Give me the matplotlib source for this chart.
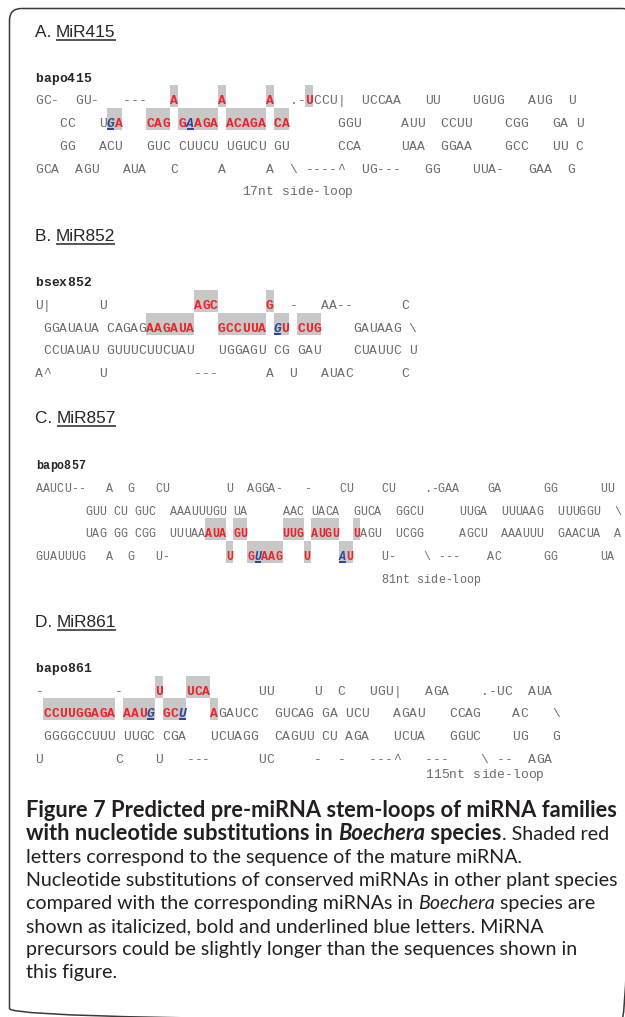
import matplotlib
matplotlib.use('Agg')
import matplotlib.pyplot as plt
from matplotlib.patches import Rectangle, FancyBboxPatch

W, H, DPI = 625, 1017, 100

# ---------------- data ----------------
panel_titles = ['A. ', 'B. ', 'C. ', 'D. ']
mirna_names = ['MiR415', 'MiR852', 'MiR857', 'MiR861']
precursor_ids = ['bapo415', 'bsex852', 'bapo857', 'bapo861']

a_rows = [
    'GC-  GU-   ---   A     A     A  .-UCCU|  UCCAA   UU    UGUG   AUG  U',
    '   CC   UGA   CAG GAAGA ACAGA CA      GGU     AUU  CCUU    CGG   GA U',
    '   GG   ACU   GUC CUUCU UGUCU GU      CCA     UAA  GGAA    GCC   UU C',
    'GCA  AGU   AUA   C     A     A  \\ ----^  UG---   GG    UUA-   GAA  G',
    '                          17nt side-loop',
]
a_red = [(0, 17), (0, 23), (0, 29), (0, 34),
         (1, 10), (1, 14), (1, 15), (1, 16), (1, 18), (1, 20), (1, 21), (1, 22),
         (1, 24), (1, 25), (1, 26), (1, 27), (1, 28), (1, 30), (1, 31)]
a_blue = [(1, 9), (1, 19)]

b_rows = [
    'U|      U           AGC      G  -   AA--      C',
    ' GGAUAUA CAGAGAAGAUA   GCCUUA GU CUG    GAUAAG \\',
    ' CCUAUAU GUUUCUUCUAU   UGGAGU CG GAU    CUAUUC U',
    'A^      U           ---      A  U   AUAC      C',
]
b_red = [(0, 20), (0, 21), (0, 22), (0, 29),
         (1, 14), (1, 15), (1, 16), (1, 17), (1, 18), (1, 19),
         (1, 23), (1, 24), (1, 25), (1, 26), (1, 27), (1, 28),
         (1, 31), (1, 33), (1, 34), (1, 35)]
b_blue = [(1, 30)]

c_rows = [
    'AAUCU--   A  G   CU        U  AGGA-   -    CU    CU    .-GAA    GA      GG      UU',
    '       GUU CU GUC  AAAUUUGU UA     AAC UACA  GUCA  GGCU     UUGA  UUUAAG  UUUGGU  \\',
    '       UAG GG CGG  UUUAAAUA GU     UUG AUGU  UAGU  UCGG     AGCU  AAAUUU  GAACUA  A',
    'GUAUUUG   A  G   U-        U  GUAAG   U    AU    U-    \\ ---    AC      GG      UA',
    '                                                 81nt side-loop',
]
c_red = [(2, 24), (2, 25), (2, 26), (2, 28), (2, 29), (2, 35), (2, 36), (2, 37),
         (2, 39), (2, 40), (2, 41), (2, 42), (2, 45),
         (3, 27), (3, 30), (3, 32), (3, 33), (3, 34), (3, 38), (3, 44)]
c_blue = [(3, 31), (3, 43)]

d_rows = [
    '-         -    U   UCA      UU     U  C   UGU|   AGA    .-UC  AUA',
    ' CCUUGGAGA AAUG GCU   AGAUCC  GUCAG GA UCU   AGAU   CCAG    AC   \\',
    ' GGGGCCUUU UUGC CGA   UCUAGG  CAGUU CU AGA   UCUA   GGUC    UG   G',
    'U         C    U   ---      UC     -  -   ---^   ---    \\ --  AGA',
    '                                                 115nt side-loop',
]
d_red = [(0, 15), (0, 19), (0, 20), (0, 21),
         (1, 1), (1, 2), (1, 3), (1, 4), (1, 5), (1, 6), (1, 7), (1, 8), (1, 9),
         (1, 11), (1, 12), (1, 13), (1, 16), (1, 17), (1, 22)]
d_blue = [(1, 14), (1, 18)]

caption_lines = [
    [('Figure 7 Predicted pre-miRNA stem-loops of miRNA families', 'b')],
    [('with nucleotide substitutions in ', 'b'), ('Boechera', 'bi'),
     (' species', 'b'), ('. Shaded red', 'r')],
    [('letters correspond to the sequence of the mature miRNA.', 'r')],
    [('Nucleotide substitutions of conserved miRNAs in other plant species', 'r')],
    [('compared with the corresponding miRNAs in ', 'r'), ('Boechera', 'i'),
     (' species are', 'r')],
    [('shown as italicized, bold and underlined blue letters. MiRNA', 'r')],
    [('precursors could be slightly longer than the sequences shown in', 'r')],
    [('this figure.', 'r')],
]

# ---------------- layout / style ----------------
RED = '#ec2229'
BLUE = '#2c4596'
SHADE = '#c8c8c8'
SEQ_GRAY = '#6b6b6b'
DARK = '#262626'
MONO = 'Liberation Mono'

panels = [
    dict(rows=a_rows, red=a_red, blue=a_blue, x0=35.0, pitch=7.95, fs=9.4,
         title_y=31, label_y=78, ys=[100, 123, 146, 169, 191]),
    dict(rows=b_rows, red=b_red, blue=b_blue, x0=35.0, pitch=7.95, fs=9.4,
         title_y=235, label_y=282, ys=[305, 328, 350, 373]),
    dict(rows=c_rows, red=c_red, blue=c_blue, x0=35.6, pitch=7.055, fs=8.4,
         title_y=417, label_y=465, ys=[488, 511, 533, 556, 579]),
    dict(rows=d_rows, red=d_red, blue=d_blue, x0=35.3, pitch=7.95, fs=9.4,
         title_y=621, label_y=668, ys=[691, 713, 736, 759, 774]),
]
caption_y = [811, 834, 857, 880, 903, 926, 949, 972]

fig = plt.figure(figsize=(W / DPI, H / DPI), dpi=DPI)
ax = fig.add_axes([0, 0, 1, 1])
ax.set_xlim(0, W)
ax.set_ylim(H, 0)
ax.axis('off')
renderer = fig.canvas.get_renderer()


def px(fs):
    return fs * DPI / 72.0


def put_text(x, y, s, **kw):
    t = ax.text(x, y, s, va='baseline', ha='left', **kw)
    return t.get_window_extent(renderer).width


def fit_size(s, width, **kw):
    t = ax.text(0, 0, s, fontsize=10, **kw)
    w = t.get_window_extent(renderer).width
    t.remove()
    return 10 * width / w


# border (right and bottom edges run off the canvas)
ax.add_patch(FancyBboxPatch((9.5, 8.5), 624, 1012,
                            boxstyle='round,pad=0,rounding_size=12',
                            fc='none', ec='#3a3a3a', lw=1.1, zorder=0))

for k, pn in enumerate(panels):
    x0, p, fs, ys = pn['x0'], pn['pitch'], pn['fs'], pn['ys']
    em = px(fs)
    hot = set(pn['red']) | set(pn['blue'])

    # shading, merged into runs per row
    for r in range(len(pn['rows'])):
        cols = sorted(c for (rr, c) in hot if rr == r)
        runs = []
        for c in cols:
            if runs and c == runs[-1][1] + 1:
                runs[-1][1] = c
            else:
                runs.append([c, c])
        for c0, c1 in runs:
            ax.add_patch(Rectangle((x0 + c0 * p, ys[r] - 15.5), (c1 - c0 + 1) * p,
                                   22.7, fc=SHADE, ec='none', lw=0, zorder=1))

    # sequence characters
    for r, line in enumerate(pn['rows']):
        base = ys[r] + 0.33 * em
        for c, ch in enumerate(line):
            if ch == ' ':
                continue
            xc = x0 + (c + 0.5) * p
            if (r, c) in pn['blue']:
                ax.text(xc, base, ch, ha='center', va='baseline', family=MONO,
                        fontsize=fs, color=BLUE, weight='bold', style='italic', zorder=3)
                ax.plot([x0 + c * p + 0.5, x0 + (c + 1) * p - 0.5], [ys[r] + 6.3] * 2,
                        color=BLUE, lw=1.4, solid_capstyle='butt', zorder=3)
            elif (r, c) in pn['red']:
                ax.text(xc, base, ch, ha='center', va='baseline', family=MONO,
                        fontsize=fs, color=RED, weight='bold', zorder=3)
            else:
                ax.text(xc, base, ch, ha='center', va='baseline', family=MONO,
                        fontsize=fs, color=SEQ_GRAY, zorder=3)

    # precursor id (bold)
    base = pn['label_y'] + 0.33 * em
    for c, ch in enumerate(precursor_ids[k]):
        ax.text(x0 + (c + 0.5) * p, base, ch, ha='center', va='baseline', family=MONO,
                fontsize=fs, color=DARK, weight='bold')

    # panel title with underlined miRNA name
    tfs = 12.4
    tb = pn['title_y'] + 0.358 * px(tfs)
    w1 = put_text(35, tb, panel_titles[k], family='Liberation Sans', fontsize=tfs, color=DARK)
    w2 = put_text(35 + w1, tb, mirna_names[k], family='Liberation Sans', fontsize=tfs, color=DARK)
    ax.plot([35 + w1, 35 + w1 + w2], [pn['title_y'] + 8.5] * 2, color=DARK, lw=1.1,
            solid_capstyle='butt')

# caption: bold and regular sizes fitted to the measured line widths
CAP = 'Lato'
bold_fs = fit_size(caption_lines[0][0][0], 591, family=CAP, weight='bold')
reg_fs = fit_size(caption_lines[3][0][0], 591, family=CAP)
styles = {'b': dict(weight='bold', fontsize=bold_fs),
          'bi': dict(weight='bold', style='italic', fontsize=bold_fs),
          'r': dict(fontsize=reg_fs),
          'i': dict(style='italic', fontsize=reg_fs)}
for line, y in zip(caption_lines, caption_y):
    x = 26
    for seg, st in line:
        x += put_text(x, y + 0.3 * px(reg_fs), seg, family=CAP,
                      color='#231f20', **styles[st])

fig.savefig('out.png', dpi=DPI)
